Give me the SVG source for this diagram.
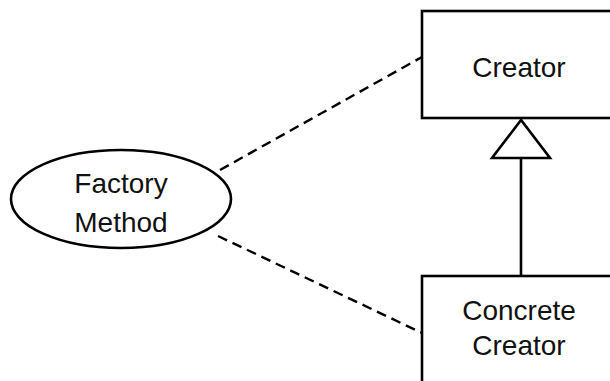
<svg xmlns="http://www.w3.org/2000/svg" width="610" height="381" viewBox="0 0 610 381">
  <style>
    .shape { fill: #fff; stroke: #000; stroke-width: 2.6; }
    .label { font-family: "Liberation Sans", Arial, sans-serif; font-size: 28px; fill: #111; text-anchor: middle; }
    .dash { stroke: #000; stroke-width: 2.4; stroke-dasharray: 10 6; fill: none; }
    .line { stroke: #000; stroke-width: 2.6; fill: none; }
  </style>
  <rect width="610" height="381" fill="#fff"/>
  <g id="connectors">
    <line class="dash" x1="220" y1="170" x2="422" y2="57"/>
    <line class="dash" x1="218" y1="236" x2="422" y2="333"/>
    <line class="line" x1="521" y1="158" x2="521" y2="276"/>
    <polygon class="shape" points="521,120 492,158 550,158"/>
  </g>
  <g id="creator">
    <rect class="shape" x="422" y="11" width="200" height="107"/>
    <text class="label" x="519" y="77">Creator</text>
  </g>
  <g id="concrete-creator">
    <rect class="shape" x="422" y="276" width="200" height="120"/>
    <text class="label" x="519" y="320">Concrete</text>
    <text class="label" x="519" y="355">Creator</text>
  </g>
  <g id="factory-method">
    <ellipse class="shape" cx="121" cy="199" rx="110" ry="49"/>
    <text class="label" x="121" y="193">Factory</text>
    <text class="label" x="121" y="232">Method</text>
  </g>
</svg>
